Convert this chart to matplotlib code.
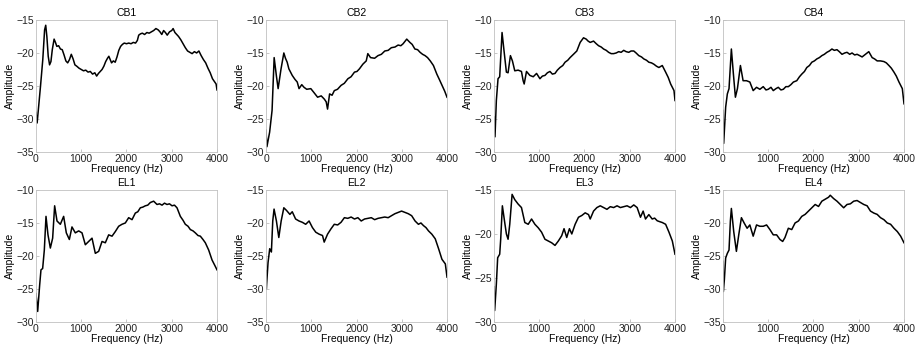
import matplotlib
matplotlib.use("Agg")
import matplotlib.pyplot as plt

plt.rcParams["font.family"] = ["Liberation Sans", "DejaVu Sans"]

titles = ["CB1", "CB2", "CB3", "CB4", "EL1", "EL2", "EL3", "EL4"]
ylims = [(-35, -15), (-30, -10), (-30, -10), (-30, -10),
         (-30, -10), (-35, -15), (-30, -15), (-35, -15)]

cb1_f = [0, 25, 60, 100, 150, 190, 215, 240, 270, 300, 330, 360, 400, 430, 460, 500, 540, 580, 620, 660,
         700, 740, 780, 820, 860, 900, 950, 1000, 1050, 1100, 1150, 1200, 1250, 1300, 1340, 1380, 1420, 1460,
         1500, 1540, 1580, 1610, 1640, 1670, 1710, 1750, 1790, 1830, 1870, 1910, 1950, 2000, 2050, 2100, 2150,
         2200, 2240, 2270, 2310, 2350, 2400, 2450, 2500, 2550, 2600, 2650, 2700, 2740, 2780, 2820, 2860, 2900,
         2950, 3000, 3030, 3070, 3110, 3150, 3200, 3250, 3300, 3350, 3400, 3450, 3500, 3550, 3600, 3650, 3700,
         3750, 3800, 3850, 3900, 3950, 3980, 4000]
cb1_a = [-29.0, -30.6, -28.0, -25.0, -21.0, -16.5, -15.8, -17.5, -20.5, -21.8, -21.3, -19.5, -17.9, -18.4, -19.0,
         -18.9, -19.4, -19.5, -20.3, -21.2, -21.5, -21.0, -20.2, -20.9, -21.8, -22.0, -22.3, -22.5, -22.7, -22.6,
         -22.9, -22.8, -23.2, -23.0, -23.5, -23.1, -22.8, -22.5, -22.0, -21.3, -20.8, -20.5, -21.0, -21.5, -21.2,
         -21.4, -20.6, -19.6, -19.0, -18.7, -18.5, -18.6, -18.5, -18.6, -18.4, -18.5, -18.1, -17.3, -17.1, -17.0,
         -17.2, -16.9, -17.0, -16.8, -16.6, -16.3, -16.5, -16.8, -17.2, -16.6, -16.9, -17.3, -16.8, -16.6, -16.3,
         -16.9, -17.2, -17.5, -18.0, -18.6, -19.2, -19.7, -19.9, -20.1, -19.8, -20.0, -19.7, -20.4, -21.0, -21.5,
         -22.3, -23.0, -23.9, -24.4, -24.7, -25.6]

cb2_f = [0, 20, 80, 134, 180, 230, 268, 330, 394, 430, 468, 505, 580, 640, 690, 730, 790, 840, 900, 990, 1060,
         1140, 1220, 1290, 1330, 1360, 1405, 1460, 1510, 1580, 1660, 1730, 1810, 1880, 1955, 2010, 2065, 2140,
         2215, 2250, 2310, 2400, 2475, 2550, 2625, 2700, 2770, 2850, 2920, 2980, 3030, 3110, 3180, 3230, 3290,
         3350, 3405, 3460, 3515, 3570, 3630, 3700, 3775, 3830, 3890, 3950, 4000]
cb2_a = [-26.7, -29.2, -27.0, -23.7, -15.7, -18.5, -20.4, -17.5, -15.0, -15.8, -16.4, -17.4, -18.4, -19.0, -19.4,
         -20.4, -19.8, -20.2, -20.5, -20.4, -21.0, -21.7, -21.5, -22.0, -22.4, -23.5, -21.2, -21.4, -20.7, -20.5,
         -19.9, -19.6, -18.9, -18.6, -17.9, -17.8, -17.4, -16.7, -16.2, -15.1, -15.7, -15.8, -15.4, -15.2, -14.7,
         -14.6, -14.2, -14.1, -13.8, -13.9, -13.6, -12.9, -13.4, -13.7, -14.4, -14.5, -14.9, -15.2, -15.4, -15.7,
         -16.2, -16.9, -18.2, -19.0, -19.9, -20.8, -21.7]

cb3_f = [0, 22, 52, 89, 126, 178, 222, 274, 311, 363, 407, 459, 533, 607, 644, 667, 718, 793, 867, 941, 1015,
         1070, 1126, 1180, 1237, 1290, 1348, 1400, 1459, 1520, 1570, 1630, 1681, 1756, 1830, 1904, 1978, 2037,
         2080, 2126, 2200, 2260, 2311, 2370, 2422, 2480, 2533, 2590, 2644, 2700, 2756, 2810, 2867, 2920, 2978,
         3030, 3089, 3140, 3200, 3260, 3311, 3370, 3422, 3480, 3533, 3590, 3644, 3719, 3793, 3850, 3904, 3978,
         4000]
cb3_a = [-24.7, -27.7, -22.2, -18.9, -18.6, -11.9, -14.7, -17.9, -18.0, -15.4, -16.2, -17.7, -17.6, -17.8, -19.2,
         -19.7, -17.8, -18.4, -18.6, -18.1, -18.9, -18.5, -18.4, -18.0, -17.8, -18.2, -18.1, -17.6, -17.2, -16.9,
         -16.4, -16.1, -15.7, -15.2, -14.7, -13.4, -12.7, -12.9, -13.2, -13.4, -13.2, -13.6, -13.9, -14.1, -14.4,
         -14.6, -14.9, -15.1, -15.1, -15.0, -14.8, -14.9, -14.6, -14.8, -14.9, -14.7, -14.7, -15.0, -15.4, -15.6,
         -15.9, -16.1, -16.4, -16.5, -16.7, -17.0, -17.2, -16.9, -17.9, -18.7, -19.7, -20.7, -22.2]

cb4_f = [0, 15, 59, 96, 133, 185, 230, 274, 319, 385, 444, 519, 593, 667, 741, 815, 889, 950, 1000, 1060, 1111,
         1170, 1222, 1280, 1333, 1390, 1444, 1500, 1556, 1630, 1690, 1741, 1800, 1852, 1910, 1963, 2020, 2074,
         2130, 2185, 2240, 2296, 2350, 2407, 2460, 2519, 2570, 2630, 2690, 2741, 2800, 2852, 2910, 2963, 3020,
         3074, 3148, 3222, 3296, 3350, 3407, 3480, 3556, 3610, 3667, 3720, 3778, 3830, 3889, 3963, 4000]
cb4_a = [-23.7, -28.7, -23.2, -21.2, -20.4, -14.4, -18.2, -21.7, -20.4, -16.9, -19.2, -19.2, -19.4, -20.7, -20.2,
         -20.5, -20.1, -20.6, -20.5, -20.2, -20.7, -20.4, -20.2, -20.6, -20.5, -20.1, -20.1, -19.8, -19.4, -19.2,
         -18.6, -18.2, -17.8, -17.2, -16.9, -16.4, -16.2, -15.9, -15.7, -15.4, -15.2, -14.9, -14.7, -14.4, -14.6,
         -14.5, -14.8, -15.2, -15.0, -14.9, -15.2, -15.0, -15.3, -15.2, -15.4, -15.6, -15.2, -14.8, -15.7, -15.9,
         -16.2, -16.2, -16.3, -16.5, -16.9, -17.3, -17.9, -18.5, -19.4, -20.4, -22.7]

el1_f = [0, 37, 81, 110, 147, 184, 221, 265, 317, 368, 412, 464, 538, 611, 670, 737, 795, 869, 943, 1017, 1090,
         1164, 1238, 1311, 1385, 1459, 1532, 1606, 1680, 1753, 1827, 1900, 1974, 2048, 2122, 2195, 2250, 2306,
         2360, 2416, 2470, 2527, 2600, 2674, 2730, 2785, 2840, 2895, 2950, 3006, 3060, 3116, 3190, 3250, 3300,
         3360, 3411, 3470, 3521, 3580, 3632, 3690, 3742, 3816, 3890, 3964, 4000]
el1_a = [-25.7, -28.4, -24.4, -22.1, -21.9, -19.1, -14.0, -16.8, -18.8, -17.3, -12.4, -14.7, -15.2, -14.0, -16.5,
         -17.5, -15.6, -16.5, -16.2, -16.5, -18.3, -17.8, -17.3, -19.6, -19.3, -17.8, -18.0, -16.8, -17.0, -16.3,
         -15.5, -15.2, -15.0, -14.2, -14.5, -13.5, -13.3, -12.7, -12.6, -12.4, -12.3, -11.9, -11.7, -12.2, -12.1,
         -12.3, -12.0, -12.2, -12.1, -12.4, -12.3, -12.7, -14.0, -14.6, -15.2, -15.5, -16.0, -16.2, -16.5, -16.9,
         -17.0, -17.5, -18.0, -19.1, -20.6, -21.6, -22.1]

el2_f = [0, 7, 45, 82, 119, 149, 178, 230, 283, 335, 394, 453, 528, 580, 654, 729, 803, 877, 952, 1026, 1100,
         1175, 1249, 1286, 1360, 1435, 1509, 1584, 1658, 1732, 1807, 1881, 1955, 2030, 2104, 2178, 2253, 2327,
         2401, 2476, 2550, 2625, 2699, 2773, 2848, 2922, 2996, 3071, 3145, 3219, 3294, 3368, 3424, 3480, 3535,
         3591, 3665, 3740, 3814, 3888, 3963, 4000]
el2_a = [-27.2, -30.0, -26.0, -23.9, -24.4, -19.7, -17.9, -19.7, -22.2, -19.7, -17.7, -18.1, -18.7, -18.3, -19.4,
         -19.7, -19.9, -20.2, -19.7, -20.7, -21.4, -21.7, -21.9, -22.9, -21.7, -20.9, -20.2, -20.3, -19.9, -19.2,
         -19.3, -19.1, -19.4, -19.2, -19.7, -19.4, -19.3, -19.2, -19.5, -19.3, -19.2, -19.1, -19.2, -18.9, -18.6,
         -18.4, -18.2, -18.4, -18.6, -18.9, -19.7, -20.2, -20.0, -20.4, -20.7, -21.2, -21.7, -22.4, -23.9, -25.5,
         -26.2, -28.2]

el3_f = [0, 15, 52, 81, 126, 148, 185, 237, 274, 311, 348, 400, 459, 533, 607, 681, 756, 830, 904, 978, 1052,
         1126, 1200, 1274, 1348, 1422, 1496, 1548, 1607, 1667, 1719, 1793, 1867, 1941, 2015, 2089, 2126, 2200,
         2274, 2348, 2422, 2496, 2570, 2644, 2719, 2793, 2867, 2941, 3015, 3089, 3163, 3237, 3296, 3348, 3422,
         3496, 3550, 3607, 3660, 3719, 3793, 3867, 3941, 4000]
el3_a = [-26.0, -28.7, -25.7, -22.7, -22.3, -20.6, -16.8, -18.7, -20.0, -20.6, -18.9, -15.5, -16.1, -16.6, -17.0,
         -18.7, -18.9, -18.3, -18.9, -19.3, -19.8, -20.6, -20.8, -21.0, -21.3, -20.8, -20.2, -19.4, -20.4, -19.4,
         -20.0, -18.9, -18.1, -17.9, -17.6, -17.8, -18.3, -17.4, -17.0, -16.8, -17.0, -17.2, -16.9, -17.0, -16.8,
         -17.0, -16.9, -16.8, -17.0, -16.7, -17.0, -18.1, -17.4, -18.3, -17.8, -18.3, -18.2, -18.5, -18.6, -18.7,
         -18.9, -19.8, -20.8, -22.3]

el4_f = [0, 7, 30, 59, 96, 133, 163, 185, 237, 296, 348, 407, 467, 533, 593, 667, 741, 815, 889, 963, 1037, 1111,
         1185, 1259, 1319, 1370, 1444, 1519, 1593, 1667, 1741, 1815, 1889, 1963, 2037, 2111, 2185, 2259, 2333,
         2370, 2444, 2519, 2593, 2667, 2741, 2815, 2889, 2963, 3037, 3111, 3185, 3259, 3333, 3407, 3481, 3556,
         3630, 3704, 3778, 3852, 3926, 4000]
el4_a = [-25.8, -30.4, -28.6, -25.3, -24.6, -24.1, -19.7, -17.8, -21.3, -24.3, -21.8, -19.2, -20.0, -20.8, -20.3,
         -22.0, -20.3, -20.5, -20.5, -20.3, -21.0, -21.8, -21.8, -22.5, -22.8, -22.2, -20.8, -21.0, -20.0, -19.7,
         -19.0, -18.7, -18.2, -17.7, -17.2, -17.5, -16.7, -16.4, -16.1, -15.8, -16.3, -16.7, -17.2, -17.7, -17.2,
         -17.1, -16.7, -16.6, -16.9, -17.2, -17.4, -18.2, -18.5, -18.7, -19.2, -19.5, -20.0, -20.2, -20.8, -21.3,
         -22.0, -23.0]

series = [(cb1_f, cb1_a), (cb2_f, cb2_a), (cb3_f, cb3_a), (cb4_f, cb4_a),
          (el1_f, el1_a), (el2_f, el2_a), (el3_f, el3_a), (el4_f, el4_a)]

fig = plt.figure(figsize=(9.16, 3.54), dpi=100)
lefts = [0.0393, 0.2904, 0.5393, 0.7893]
bottoms = [0.5706, 0.0904]
w, h = 0.1976, 0.373
fs = 7.5

for i, (title, (f, a), yl) in enumerate(zip(titles, series, ylims)):
    r, c = divmod(i, 4)
    ax = fig.add_axes([lefts[c], bottoms[r], w, h])
    ax.plot(f, a, color="black", lw=1.1)
    ax.set_xlim(0, 4000)
    ax.set_ylim(*yl)
    ax.set_xticks([0, 1000, 2000, 3000, 4000])
    ax.set_yticks(list(range(yl[0], yl[1] + 1, 5)))
    ax.tick_params(direction="in", length=2.5, width=0.5, labelsize=fs, pad=1.5,
                   color="#b0b0b0", labelcolor="#222222")
    for s in ax.spines.values():
        s.set_color("#c0c0c0")
        s.set_linewidth(0.6)
    ax.set_title(title, fontsize=fs, pad=3)
    ax.set_xlabel("Frequency (Hz)", fontsize=fs, labelpad=0)
    ax.set_ylabel("Amplitude", fontsize=fs, labelpad=1)

fig.savefig("out.png", dpi=100)
